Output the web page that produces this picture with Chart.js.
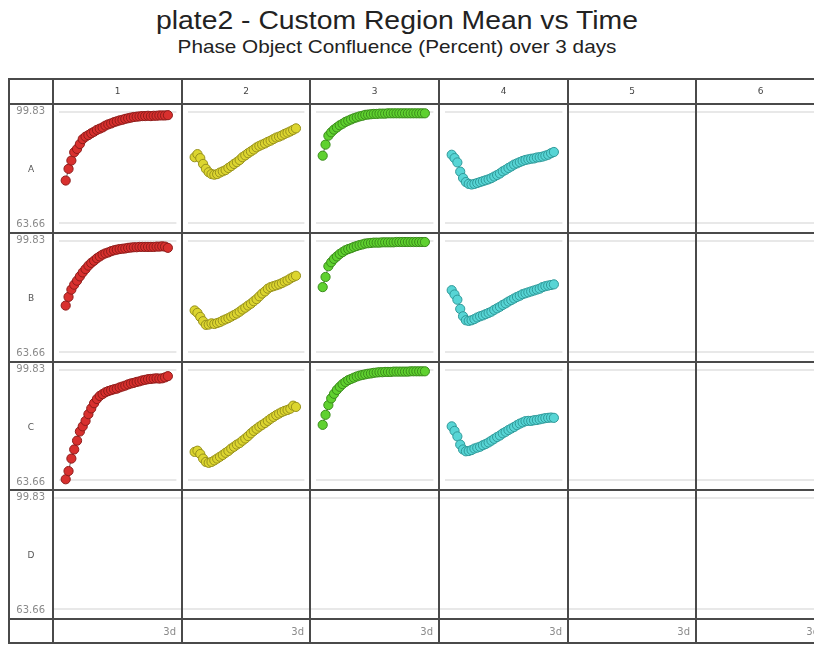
<!DOCTYPE html>
<html>
<head>
<meta charset="utf-8">
<script src="https://cdn.jsdelivr.net/npm/chart.js@4.4.1/dist/chart.umd.min.js"></script>
<style>
  body { margin: 0; background: #fff; width: 814px; height: 645px; overflow: hidden; position: relative;
         font-family: "Liberation Sans", Arial, sans-serif; }
  .abs { position: absolute; }
  #title { left: 0; width: 794px; top: 7px; font-size: 26px; line-height: 26px; text-align: center; color: #222;
           transform: scaleX(1.09); }
  #subtitle { left: 0; width: 794px; top: 38px; font-size: 18.5px; line-height: 18.5px; text-align: center; color: #222;
              transform: scaleX(1.12); }
  .line { background: #4a4a4a; z-index: 5; }
  .lbl { font-family: "DejaVu Sans", sans-serif; font-size: 10px; line-height: 12px; height: 12px; white-space: nowrap; z-index: 6; }
</style>
</head>
<body>
<div id="title" class="abs">plate2 - Custom Region Mean vs Time</div>
<div id="subtitle" class="abs">Phase Object Confluence (Percent) over 3 days</div>
<script>
// plate layout
const rowNames = ['A', 'B', 'C', 'D'];
const colNames = ['1', '2', '3', '4', '5', '6'];
const yTicks = [99.83, 63.66];
const xTickLabel = '3d';

// elapsed time in hours (scan every 2h over 3 days)
const hours = [0, 2, 4, 6, 8, 10, 12, 14, 16, 18, 20, 22, 24, 26, 28, 30, 32, 34, 36,
  38, 40, 42, 44, 46, 48, 50, 52, 54, 56, 58, 60, 62, 64, 66, 68, 70, 72];

// confluence (%) per well
const a1 = [77.5, 81.3, 84.0, 86.7, 87.8, 89.4, 91.0, 91.8, 92.3, 92.9, 93.4, 94.0, 94.4, 94.8, 95.4, 95.8, 96.1, 96.5, 96.8,
  97.1, 97.3, 97.6, 97.8, 98.0, 98.2, 98.3, 98.4, 98.5, 98.5, 98.6, 98.5, 98.6, 98.6, 98.7, 98.7, 98.7, 98.8];
const a2 = [85.1, 86.1, 84.8, 82.9, 81.3, 80.2, 79.6, 79.4, 79.6, 80.1, 80.5, 80.9, 81.6, 82.2, 82.9, 83.5, 84.2, 85.1, 85.7,
  86.4, 87.0, 87.6, 88.3, 88.8, 89.2, 89.6, 90.1, 90.5, 91.0, 91.5, 91.8, 92.2, 92.7, 93.1, 93.5, 94.0, 94.5];
const a3 = [85.6, 89.2, 92.1, 93.2, 94.1, 94.8, 95.5, 96.0, 96.6, 97.0, 97.4, 97.8, 98.1, 98.4, 98.6, 98.9, 99.0, 99.1, 99.2,
  99.2, 99.3, 99.3, 99.3, 99.4, 99.4, 99.4, 99.4, 99.4, 99.4, 99.4, 99.4, 99.4, 99.4, 99.4, 99.4, 99.4, 99.4];
const a4 = [85.9, 84.8, 83.4, 80.4, 78.3, 77.0, 76.4, 76.2, 76.4, 76.7, 77.0, 77.3, 77.6, 77.9, 78.3, 78.8, 79.3, 79.8, 80.5,
  81.0, 81.6, 82.1, 82.7, 83.1, 83.5, 83.9, 84.2, 84.4, 84.6, 84.7, 85.0, 85.1, 85.3, 85.6, 85.9, 86.4, 86.8];

const b1 = [78.8, 81.6, 84.0, 85.6, 86.9, 88.3, 89.6, 90.7, 91.8, 92.7, 93.4, 94.2, 94.8, 95.4, 95.8, 96.1, 96.5, 96.8, 97.0,
  97.2, 97.3, 97.4, 97.6, 97.7, 97.8, 97.8, 97.9, 97.9, 97.9, 97.9, 97.9, 97.9, 98.0, 98.0, 98.1, 98.0, 97.6];
const b2 = [77.2, 76.4, 75.1, 73.7, 72.5, 72.6, 73.0, 72.8, 73.1, 73.4, 73.9, 74.3, 74.7, 75.2, 75.7, 76.2, 76.8, 77.5, 78.1,
  78.8, 79.4, 80.2, 80.9, 81.8, 82.7, 83.4, 84.3, 84.8, 85.1, 85.4, 85.7, 86.1, 86.6, 87.0, 87.6, 88.1, 88.5];
const b3 = [84.8, 88.1, 91.6, 92.9, 94.0, 94.8, 95.6, 96.2, 96.8, 97.2, 97.5, 97.9, 98.2, 98.5, 98.7, 99.0, 99.1, 99.2, 99.3,
  99.3, 99.3, 99.4, 99.4, 99.4, 99.4, 99.4, 99.5, 99.5, 99.5, 99.5, 99.5, 99.5, 99.5, 99.5, 99.5, 99.5, 99.5];
const b4 = [83.8, 82.4, 80.7, 77.7, 75.3, 74.0, 73.8, 74.0, 74.4, 74.9, 75.3, 75.6, 76.0, 76.4, 76.8, 77.4, 77.9, 78.4, 79.0,
  79.5, 80.1, 80.6, 81.1, 81.6, 82.0, 82.5, 82.8, 83.1, 83.4, 83.7, 84.0, 84.3, 84.8, 85.1, 85.3, 85.5, 85.7];

const c1 = [63.9, 66.6, 70.7, 73.7, 76.6, 79.6, 81.3, 83.1, 85.3, 87.2, 88.9, 90.3, 91.3, 91.9, 92.5, 92.9, 93.2, 93.5, 93.7,
  94.1, 94.4, 94.7, 95.1, 95.4, 95.6, 95.9, 96.1, 96.4, 96.6, 96.8, 96.9, 97.0, 97.1, 97.0, 97.1, 97.4, 97.8];
const c2 = [72.9, 73.3, 72.2, 70.7, 69.6, 69.3, 69.6, 70.1, 70.7, 71.3, 71.9, 72.6, 73.2, 74.0, 74.6, 75.3, 75.8, 76.6, 77.3,
  78.1, 79.0, 79.8, 80.5, 81.2, 81.8, 82.4, 83.1, 83.8, 84.4, 85.0, 85.5, 86.0, 86.4, 86.7, 87.1, 88.1, 87.7];
const c3 = [81.8, 85.1, 88.3, 90.5, 92.0, 93.3, 94.3, 95.2, 95.9, 96.5, 96.9, 97.3, 97.7, 98.0, 98.2, 98.4, 98.6, 98.7, 98.9,
  99.0, 99.1, 99.1, 99.2, 99.2, 99.2, 99.3, 99.3, 99.3, 99.3, 99.3, 99.3, 99.4, 99.4, 99.4, 99.4, 99.4, 99.4];
const c4 = [81.3, 79.8, 78.0, 75.3, 73.7, 73.1, 73.2, 73.5, 74.0, 74.3, 74.6, 75.1, 75.5, 76.0, 76.6, 77.2, 77.8, 78.3, 79.0,
  79.5, 80.1, 80.6, 81.1, 81.7, 82.2, 82.6, 83.0, 83.1, 83.1, 83.3, 83.4, 83.6, 83.8, 84.0, 84.1, 84.2, 84.1];

const wells = [
  [a1, a2, a3, a4],
  [b1, b2, b3, b4],
  [c1, c2, c3, c4],
  []
];

// styling (one colour per plate column)
const colColors = [
  { fill: '#d8302e', stroke: '#8e1c1a' },
  { fill: '#dcd52f', stroke: '#97911c' },
  { fill: '#5fd12f', stroke: '#3a8c1b' },
  { fill: '#57d5d5', stroke: '#2f9999' }
];

// grid geometry (px)
const colX = [53, 182, 310, 439, 568, 696, 825];
const rowY = [104, 233, 362, 490, 619];
const gridLeft = 9, gridTop = 79, gridBottom = 643;

function addDiv(cls, css, text) {
  const d = document.createElement('div');
  d.className = 'abs ' + cls;
  Object.assign(d.style, css);
  if (text !== undefined) d.textContent = text;
  document.body.appendChild(d);
  return d;
}

// frame lines
[gridLeft, ...colX].forEach(x => addDiv('line', { left: (x - 1) + 'px', top: (gridTop - 1) + 'px', width: '2px', height: (gridBottom - gridTop + 2) + 'px' }));
[gridTop, ...rowY, gridBottom].forEach(y => addDiv('line', { left: (gridLeft - 1) + 'px', top: (y - 1) + 'px', width: '820px', height: '2px' }));

// column headers + bottom axis labels
colNames.forEach((name, c) => {
  const w = colX[c + 1] - colX[c];
  addDiv('lbl', { left: colX[c] + 'px', width: w + 'px', top: '85px', textAlign: 'center', color: '#444', fontSize: '9px' }, name);
  addDiv('lbl', { left: colX[c] + 'px', width: (w - 6) + 'px', top: '626px', textAlign: 'right', color: '#8a8a8a' }, xTickLabel);
});

// row letters + y tick labels
rowNames.forEach((name, r) => {
  addDiv('lbl', { left: gridLeft + 'px', width: (colX[0] - gridLeft) + 'px', top: (rowY[r] + 59) + 'px', textAlign: 'center', color: '#555', fontSize: '9px' }, name);
  addDiv('lbl', { left: gridLeft + 'px', width: '36px', top: (rowY[r] + 1) + 'px', textAlign: 'right', color: '#8a8a8a' }, yTicks[0].toFixed(2));
  addDiv('lbl', { left: gridLeft + 'px', width: '36px', top: (rowY[r] + 114) + 'px', textAlign: 'right', color: '#8a8a8a' }, yTicks[1].toFixed(2));
});

// one small chart per well
rowNames.forEach((rn, r) => {
  colNames.forEach((cn, c) => {
    const cv = document.createElement('canvas');
    const w = colX[c + 1] - colX[c], h = rowY[r + 1] - rowY[r];
    cv.width = w; cv.height = h;
    cv.className = 'abs';
    Object.assign(cv.style, { left: colX[c] + 'px', top: rowY[r] + 'px', width: w + 'px', height: h + 'px' });
    document.body.appendChild(cv);

    const series = wells[r][c];
    const datasets = series ? [{
      label: rn + cn,
      data: series.map((v, i) => ({ x: hours[i], y: v })),
      borderColor: '#666',
      borderWidth: 1,
      pointRadius: 4.6,
      pointBackgroundColor: colColors[c].fill,
      pointBorderColor: colColors[c].stroke,
      pointBorderWidth: 1,
      tension: 0,
      clip: false
    }] : [];

    new Chart(cv, {
      type: 'line',
      data: { datasets },
      options: {
        responsive: false,
        animation: false,
        events: [],
        layout: { padding: { top: 8, bottom: 10, left: 0, right: 0 } },
        plugins: { legend: { display: false }, tooltip: { enabled: false } },
        scales: {
          x: { type: 'linear', min: -5, max: 78, display: false },
          y: {
            min: yTicks[1], max: yTicks[0],
            afterBuildTicks: ax => { ax.ticks = yTicks.map(v => ({ value: v })); },
            ticks: { display: false },
            grid: { color: '#e8e8e8', lineWidth: 2, drawTicks: false },
            border: { display: false }
          }
        }
      }
    });
  });
});
</script>
</body>
</html>
